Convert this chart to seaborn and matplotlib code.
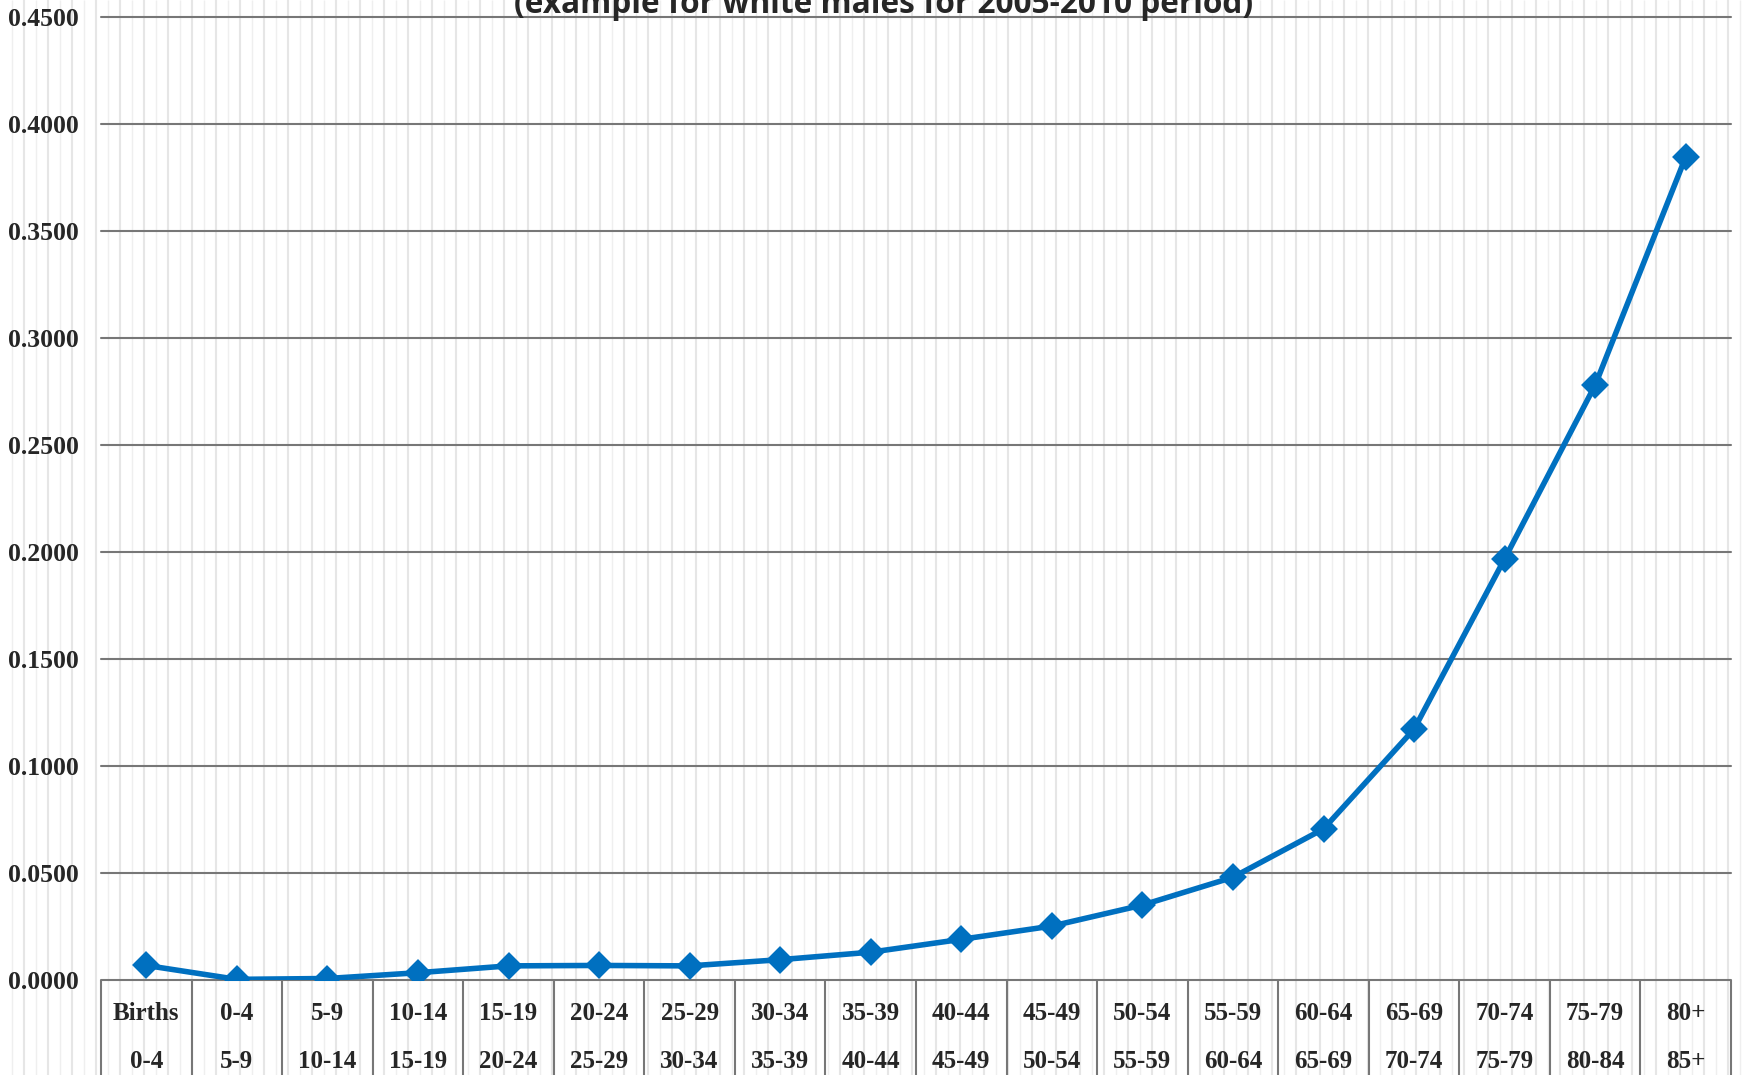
import seaborn as sns
import pandas as pd
import numpy as np
import matplotlib.pyplot as plt

# age groups (two rows in the category table) and the rates
row_top = ["Births", "0-4", "5-9", "10-14", "15-19", "20-24", "25-29", "30-34", "35-39",
           "40-44", "45-49", "50-54", "55-59", "60-64", "65-69", "70-74", "75-79", "80+"]
row_bottom = ["0-4", "5-9", "10-14", "15-19", "20-24", "25-29", "30-34", "35-39", "40-44",
              "45-49", "50-54", "55-59", "60-64", "65-69", "70-74", "75-79", "80-84", "85+"]
rates = [0.0068, 0.0003, 0.0007, 0.0034, 0.0066, 0.0068, 0.0066, 0.0095, 0.0130,
         0.0190, 0.0252, 0.0350, 0.0480, 0.0706, 0.1172, 0.1968, 0.2780, 0.3846]
title = "(example for white males for 2005-2010 period)"

groups = [a + "\n" + b for a, b in zip(row_top, row_bottom)]
df = pd.DataFrame({"group": groups, "rate": rates})

sns.set_theme(style="white")
plt.rcParams["font.family"] = ["Liberation Serif", "DejaVu Serif"]

W, H = 1744, 1075
fig = plt.figure(figsize=(W / 100, H / 100), dpi=100)

# striped page background
bg = fig.add_axes([0, 0, 1, 1], zorder=0)
bg.set_xlim(0, W)
bg.set_ylim(0, H)
bg.axis("off")
xs = np.arange(11.7, W, 12)
thick = np.arange(len(xs)) % 2 == 1
bg.vlines(xs[thick], 0, H, color="#e6e6e6", linewidth=1.5)
bg.vlines(xs[~thick], 0, H, color="#efefef", linewidth=1.0)

ax = fig.add_axes([101 / W, 95 / H, 1630 / W, 963 / H], zorder=1)
ax.patch.set_alpha(0)

sns.pointplot(data=df, x="group", y="rate", errorbar=None, color="#0070C0",
              markers="D", markersize=11, linewidth=4, ax=ax)

ax.set_ylim(0, 0.45)
ax.set_yticks(np.arange(0, 0.4501, 0.05))
ax.set_yticklabels([f"{v:.4f}" for v in np.arange(0, 0.4501, 0.05)],
                   fontweight="bold", fontsize=18.5)
ax.yaxis.grid(True, color="#777777", linewidth=1.5)
for gl in ax.get_ygridlines():
    gl.set_clip_on(False)
ax.set_axisbelow(True)
for s in ax.spines.values():
    s.set_visible(False)
ax.tick_params(axis="both", length=0)
ax.tick_params(axis="y", pad=16)
ax.set_xlabel("")
ax.set_ylabel("")

# category table under the axis
ax.set_xticks(range(len(groups)))
ax.set_xticklabels(groups, fontweight="bold", fontsize=18, linespacing=2.4)
ax.tick_params(axis="x", pad=16)
ax.vlines(np.arange(-0.5, len(groups), 1), -0.2, 0, transform=ax.get_xaxis_transform(),
          clip_on=False, color="#777777", linewidth=1.5)
ax.set_xlim(-0.5, len(groups) - 0.5)

fig.text(884 / W, (H - 13) / H, title, ha="center", va="baseline",
         fontsize=22.8, fontweight="bold", family=["Open Sans", "DejaVu Sans"])

fig.savefig("out.png", dpi=100)
